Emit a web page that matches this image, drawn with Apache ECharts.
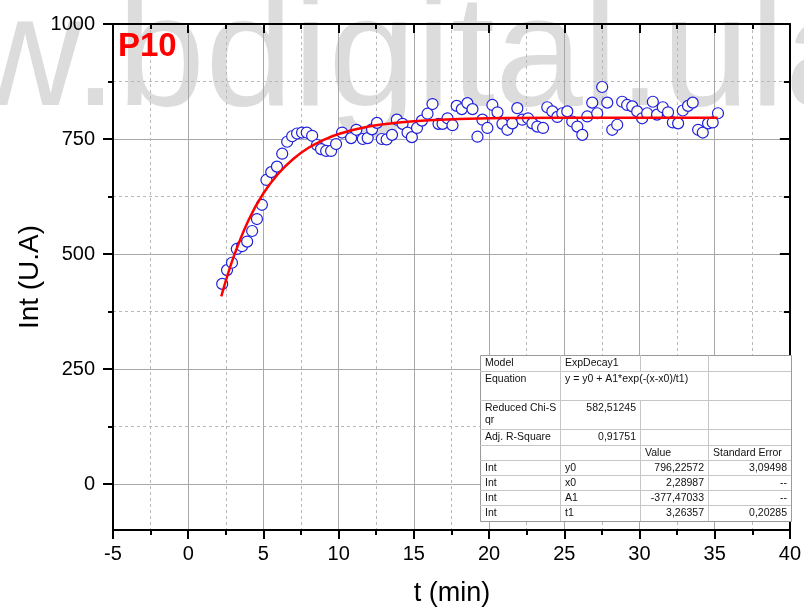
<!DOCTYPE html>
<html><head><meta charset="utf-8">
<script src="https://cdn.jsdelivr.net/npm/echarts@6/dist/echarts.min.js"></script>
<style>html,body{margin:0;padding:0;background:#fff}#c{width:804px;height:610px}</style>
</head><body><div id="c"></div><script>
// ---- data ----
const timeMin = [2.26,2.58,2.91,3.23,3.58,3.92,4.25,4.57,4.90,5.20,5.52,5.90,6.25,6.58,6.91,7.24,7.57,7.88,8.24,8.56,8.83,9.17,9.50,9.83,10.23,10.83,11.18,11.61,11.93,12.22,12.55,12.87,13.19,13.55,13.87,14.25,14.58,14.87,15.21,15.54,15.91,16.24,16.64,16.91,17.24,17.57,17.85,18.19,18.56,18.90,19.23,19.56,19.89,20.22,20.56,20.89,21.22,21.55,21.88,22.21,22.59,22.88,23.21,23.59,23.87,24.21,24.54,24.87,25.20,25.53,25.87,26.20,26.53,26.86,27.19,27.52,27.86,28.19,28.52,28.85,29.18,29.52,29.85,30.18,30.51,30.89,31.17,31.55,31.90,32.22,32.57,32.88,33.23,33.54,33.90,34.21,34.56,34.87,35.22];
const intensity = [435,465,481,511,517,527,550,576,607,661,678,690,718,744,756,762,764,764,757,737,728,724,724,739,764,752,770,750,752,771,785,750,749,759,792,783,764,754,774,790,805,826,783,783,795,780,822,815,828,815,755,792,774,824,808,783,770,784,817,792,795,784,777,774,819,810,798,806,810,788,777,759,799,829,806,863,829,770,781,831,824,821,810,795,806,831,803,819,808,786,784,812,822,829,770,764,784,786,806];
// fitted ExpDecay1 curve
const fitTime = [2.2,3,4,5,6,7,8,9,10,12,14,16,20,25,30,35.2];
const fitInt  = [408,492,573,632,675,707,731,748,761,777,786,791,795,796,796,796];
// axes
const xRange = [-5, 40];
const xStep = 5;
const yRange = [-100, 1000];
const yMajorTicks = [0, 250, 500, 750, 1000];
const yMinorTicks = [125, 375, 625, 875];
// texts
const panelLabel = 'P10';
const xName = 't (min)';
const yName = 'Int (U.A)';
const watermark = 'w.bdigital.ula';
const tableCells = [
  [['Model','l'],['ExpDecay1','l'],null,null],
  [['Equation','l'],['y = y0 + A1*exp(-(x-x0)/t1)','l'],null,null],
  [['Reduced Chi-S\nqr','l'],['582,51245','r'],null,null],
  [['Adj. R-Square','l'],['0,91751','r'],null,null],
  [null,null,['Value','l'],['Standard Error','l']],
  [['Int','l'],['y0','l'],['796,22572','r'],['3,09498','r']],
  [['Int','l'],['x0','l'],['2,28987','r'],['--','r']],
  [['Int','l'],['A1','l'],['-377,47033','r'],['--','r']],
  [['Int','l'],['t1','l'],['3,26357','r'],['0,20285','r']]
];

// ---- layout ----
const FONT = '"Liberation Sans", Arial, sans-serif';
const tblCols = [480, 560, 640, 708, 791];
const tblRows = [355, 371, 400, 429, 445, 460, 475, 490, 505, 521];
const doubleRows = [1, 2];
const mergedRow = 1;

const points = timeMin.map((t, i) => [t, intensity[i]]);
const fitLine = fitTime.map((t, i) => [t, fitInt[i]]);

const g = [];
g.push({type:'text', z:-10, silent:true, x:-32, y:140,
  style:{text:watermark, font:'158px ' + FONT, fill:'#dcdcdc', align:'left', textAlign:'left', verticalAlign:'bottom', textVerticalAlign:'bottom'}});
g.push({type:'text', z:50, x:118, y:47,
  style:{text:panelLabel, font:'bold 33px ' + FONT, fill:'#ff0000', align:'left', textAlign:'left', verticalAlign:'middle', textVerticalAlign:'middle'}});
g.push({type:'text', z:50, x:452, y:594,
  style:{text:xName, font:'27px ' + FONT, fill:'#000', align:'center', textAlign:'center', verticalAlign:'middle', textVerticalAlign:'middle'}});
g.push({type:'text', z:50, x:30, y:277, rotation:Math.PI/2,
  style:{text:yName, font:'28px ' + FONT, fill:'#000', align:'center', textAlign:'center', verticalAlign:'middle', textVerticalAlign:'middle'}});

// table
const L = tblCols[0], R = tblCols[tblCols.length-1], T = tblRows[0], B = tblRows[tblRows.length-1];
g.push({type:'rect', z:60, shape:{x:L+0.5, y:T+0.5, width:R-L, height:B-T}, style:{fill:'#fff', stroke:'#9a9a9a', lineWidth:1}});
for (let r = 1; r < tblRows.length - 1; r++) {
  g.push({type:'line', z:61, shape:{x1:L, y1:tblRows[r]+0.5, x2:R, y2:tblRows[r]+0.5}, style:{stroke:'#c6c6c6', lineWidth:1}});
}
for (let r = 0; r < tblRows.length - 1; r++) {
  for (let c = 1; c < tblCols.length - 1; c++) {
    if (r === mergedRow && c === 2) continue;
    g.push({type:'line', z:61, shape:{x1:tblCols[c]+0.5, y1:tblRows[r], x2:tblCols[c]+0.5, y2:tblRows[r+1]}, style:{stroke:'#c6c6c6', lineWidth:1}});
  }
}
tableCells.forEach((row, r) => {
  row.forEach((cell, c) => {
    if (!cell) return;
    const lines = cell[0].split('\n');
    lines.forEach((txt, k) => {
      const isDouble = doubleRows.indexOf(r) >= 0;
      const y = isDouble ? tblRows[r] + 8 + k * 12 : (tblRows[r] + tblRows[r+1]) / 2 + 0.5;
      const left = cell[1] === 'l';
      g.push({type:'text', z:62, x: left ? tblCols[c] + 5 : tblCols[c+1] - 4, y: y,
        style:{text:txt, font:'10.5px ' + FONT, fill:'#111', align: left?'left':'right', textAlign: left?'left':'right', verticalAlign:'middle', textVerticalAlign:'middle'}});
    });
  });
});

const black = {color:'#000', width:2};
const plain = v => String(v);
const chart = echarts.init(document.getElementById('c'));
chart.setOption({
  animation:false,
  backgroundColor:'#fff',
  grid:{left:113, right:13, top:24, bottom:80},
  xAxis:[
    {type:'value', min:xRange[0], max:xRange[1], interval:xStep, position:'bottom',
     axisLine:{onZero:false, lineStyle:black},
     axisTick:{inside:false, length:9, lineStyle:black},
     minorTick:{show:true, splitNumber:2, length:5, lineStyle:black},
     axisLabel:{fontSize:20, color:'#000', fontFamily:FONT, margin:14, showMinLabel:true, showMaxLabel:true, formatter:plain},
     splitLine:{show:true, lineStyle:{color:'#a8a8a8', width:1}},
     minorSplitLine:{show:true, lineStyle:{color:'#b8b8b8', width:1, type:[3,3]}}},
    {type:'value', min:xRange[0], max:xRange[1], interval:xStep, position:'top',
     axisLine:{onZero:false, lineStyle:black},
     axisTick:{inside:true, length:9, lineStyle:black},
     minorTick:{show:true, splitNumber:2, length:5, lineStyle:black},
     axisLabel:{show:false}, splitLine:{show:false}}
  ],
  yAxis:[
    {type:'value', min:yRange[0], max:yRange[1], position:'left',
     axisLine:{show:true, onZero:false, lineStyle:black},
     axisTick:{show:true, inside:false, length:10, lineStyle:black, customValues:yMajorTicks},
     axisLabel:{fontSize:20, color:'#000', fontFamily:FONT, margin:18, customValues:yMajorTicks, formatter:plain},
     splitLine:{show:true, lineStyle:{color:'#a8a8a8', width:1}}},
    {type:'value', min:yRange[0], max:yRange[1], position:'left',
     axisLine:{show:false, onZero:false},
     axisTick:{show:true, inside:false, length:5, lineStyle:black, customValues:yMinorTicks},
     axisLabel:{show:false},
     splitLine:{show:true, lineStyle:{color:'#b8b8b8', width:1, type:[3,3]}}},
    {type:'value', min:yRange[0], max:yRange[1], position:'right',
     axisLine:{show:true, onZero:false, lineStyle:black},
     axisTick:{show:true, inside:true, length:10, lineStyle:black, customValues:yMajorTicks},
     axisLabel:{show:false}, splitLine:{show:false}},
    {type:'value', min:yRange[0], max:yRange[1], position:'right',
     axisLine:{show:false, onZero:false},
     axisTick:{show:true, inside:true, length:6, lineStyle:black, customValues:yMinorTicks},
     axisLabel:{show:false}, splitLine:{show:false}}
  ],
  graphic:{elements:g},
  series:[
    {type:'scatter', data:points, xAxisIndex:0, yAxisIndex:0, symbol:'circle', symbolSize:11, z:3,
     itemStyle:{color:'#fcfcf2', borderColor:'#1f1fe0', borderWidth:1.2, opacity:1}},
    {type:'line', data:fitLine, xAxisIndex:0, yAxisIndex:0, smooth:0.4, showSymbol:false, symbol:'none', z:4,
     lineStyle:{color:'#ff0000', width:2.5}}
  ]
});
</script></body></html>
